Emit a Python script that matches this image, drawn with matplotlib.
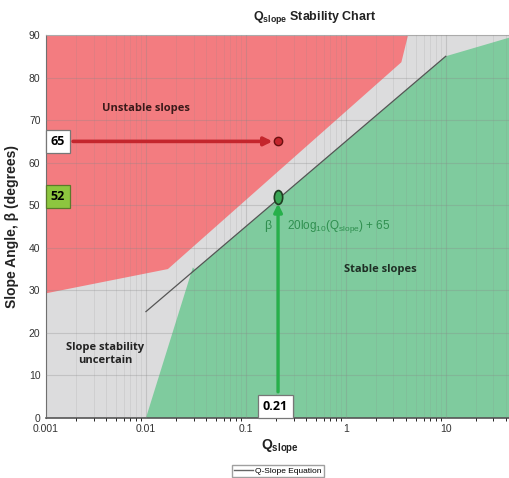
import numpy as np
import matplotlib
matplotlib.use("Agg")
import matplotlib.pyplot as plt
from matplotlib.path import Path
from matplotlib.transforms import Affine2D
from matplotlib.lines import Line2D

# ---- data ----
title = "Q$_{\\mathregular{slope}}$ Stability Chart"
x_ticks = [0.001, 0.01, 0.1, 1, 10]
x_tick_labels = ["0.001", "0.01", "0.1", "1", "10"]
y_ticks = [0, 10, 20, 30, 40, 50, 60, 70, 80, 90]

# unstable (red) zone boundary, (Q, beta)
red_q = [0.001, 0.0166, 3.6, 4.2, 0.001]
red_beta = [29.3, 35.0, 83.6, 90.0, 90.0]

# Q-slope equation line: beta = 20 log10(Q) + 65
eq_q = np.logspace(-2, 1, 50)
eq_beta = 20 * np.log10(eq_q) + 65

# stable (green) zone boundary
green_q_low = [0.01, 0.0295]
green_beta_low = [0.0, 35.4]
green_q_right = [45, 45]
green_beta_right = [89.5, 0.0]

q_value = 0.21
beta_design = 65
beta_allow = 52

plt.rcParams['font.family'] = ['Liberation Sans', 'DejaVu Sans']

fig = plt.figure(figsize=(5.10, 4.78), dpi=100)
ax = fig.add_axes([46/510, 60/478, 465/510, 383/478])
ax.set_xscale('log')
ax.set_xlim(0.001, 45)
ax.set_ylim(0, 90)
ax.set_facecolor('#dcdcdd')

ax.fill(red_q, red_beta, color='#f37c80', zorder=1, lw=0)

g_mask = eq_q >= green_q_low[1]
gq = list(green_q_low) + list(eq_q[g_mask]) + green_q_right
gb = list(green_beta_low) + list(eq_beta[g_mask]) + green_beta_right
ax.fill(gq, gb, color='#7fcb9e', zorder=1, lw=0)

ax.plot(eq_q, eq_beta, color='#555555', lw=0.9, zorder=3)

ax.set_xticks(x_ticks)
ax.set_xticklabels(x_tick_labels)
ax.set_yticks(y_ticks)
ax.tick_params(axis='both', labelsize=7.5, colors='#333333', length=0, pad=4)
ax.grid(True, which='major', color='#888888', alpha=0.3, lw=0.8, zorder=2)
ax.grid(True, which='minor', axis='x', color='#888888', alpha=0.18, lw=0.6, zorder=2)
ax.set_axisbelow(False)
ax.spines['right'].set_visible(False)
ax.spines['top'].set_color('#bbbbbb')
ax.spines['left'].set_color('#666666')
ax.spines['bottom'].set_color('#555555')
ax.spines['bottom'].set_linewidth(1.2)

# red arrow
ax.annotate('', xy=(q_value, beta_design), xytext=(0.00175, beta_design),
            arrowprops=dict(arrowstyle='-|>', color='#c4262d', lw=2.6,
                            mutation_scale=12, shrinkB=4), zorder=5)
ax.plot([q_value], [beta_design], 'o', ms=6, mfc='#c4262d', mec='#6b1010', mew=1, zorder=6)

# green arrow
ax.annotate('', xy=(q_value, beta_allow), xytext=(q_value, 5.5),
            arrowprops=dict(arrowstyle='-|>', color='#27b04b', lw=2.4,
                            mutation_scale=12, shrinkB=5), zorder=5)
ell = Path.unit_circle().transformed(Affine2D().scale(0.6, 1.0))
ax.plot([q_value], [beta_allow], marker=ell, ms=10, mfc='#3aa655', mec='#1f3d22', mew=1.2, zorder=6)

# boxes
bfont = ['Open Sans', 'DejaVu Sans']
ax.text(0.00132, beta_design, str(beta_design), fontsize=9, fontweight='bold', ha='center', va='center',
        family=bfont, zorder=7,
        bbox=dict(boxstyle='square,pad=0.42', fc='white', ec='#777777', lw=0.9))
ax.text(0.00132, beta_allow, str(beta_allow), fontsize=9, fontweight='bold', ha='center', va='center',
        family=bfont, zorder=7,
        bbox=dict(boxstyle='square,pad=0.42', fc='#8dc63f', ec='#5a7a2a', lw=0.9))
ax.text(q_value * 0.94, 2.75, f"{q_value}", fontsize=9, fontweight='bold', ha='center', va='center',
        family=bfont, zorder=7,
        bbox=dict(boxstyle='square,pad=0.42', fc='white', ec='#777777', lw=0.9))

# equation text
ax.text(0.165, 45, "β", fontsize=9, color='#2f8f4f', ha='center', va='center', zorder=7)
ax.text(0.26, 45, "20log$_{\\mathregular{10}}$(Q$_{\\mathregular{slope}}$) + 65", fontsize=8.5,
        color='#2f8f4f', ha='left', va='center', zorder=7)

# zone labels
zfont = ['Open Sans', 'DejaVu Sans']
ax.text(0.01, 72.8, "Unstable slopes", fontsize=8, fontweight='bold', color='#3a1a1a',
        ha='center', va='center', family=zfont, zorder=7)
ax.text(2.2, 35, "Stable slopes", fontsize=8, fontweight='bold', color='#1f2f25',
        ha='center', va='center', family=zfont, zorder=7)
ax.text(0.0039, 15, "Slope stability\nuncertain", fontsize=8, fontweight='bold', color='#222222',
        ha='center', va='center', family=zfont, linespacing=1.25, zorder=7)

fig.text(315/510, 1 - 18/478, title, fontsize=9, fontweight='bold', ha='center', va='center', color='#222222')
ax.set_ylabel("Slope Angle, β (degrees)", fontsize=10, fontweight='bold', color='#222222', labelpad=7)
fig.text(280/510, 1 - 447/478, "Q$_{\\mathregular{slope}}$", fontsize=10, fontweight='bold',
         ha='center', va='center', color='#222222')

handle = Line2D([], [], color='#666666', lw=1)
fig.legend([handle], ["Q-Slope Equation"], loc='center', bbox_to_anchor=(278/510, 1 - 471/478),
           fontsize=6, frameon=True, fancybox=False, edgecolor='#888888', handlelength=2.2,
           borderpad=0.3, handletextpad=0.3)

fig.savefig("out.png", dpi=100)
